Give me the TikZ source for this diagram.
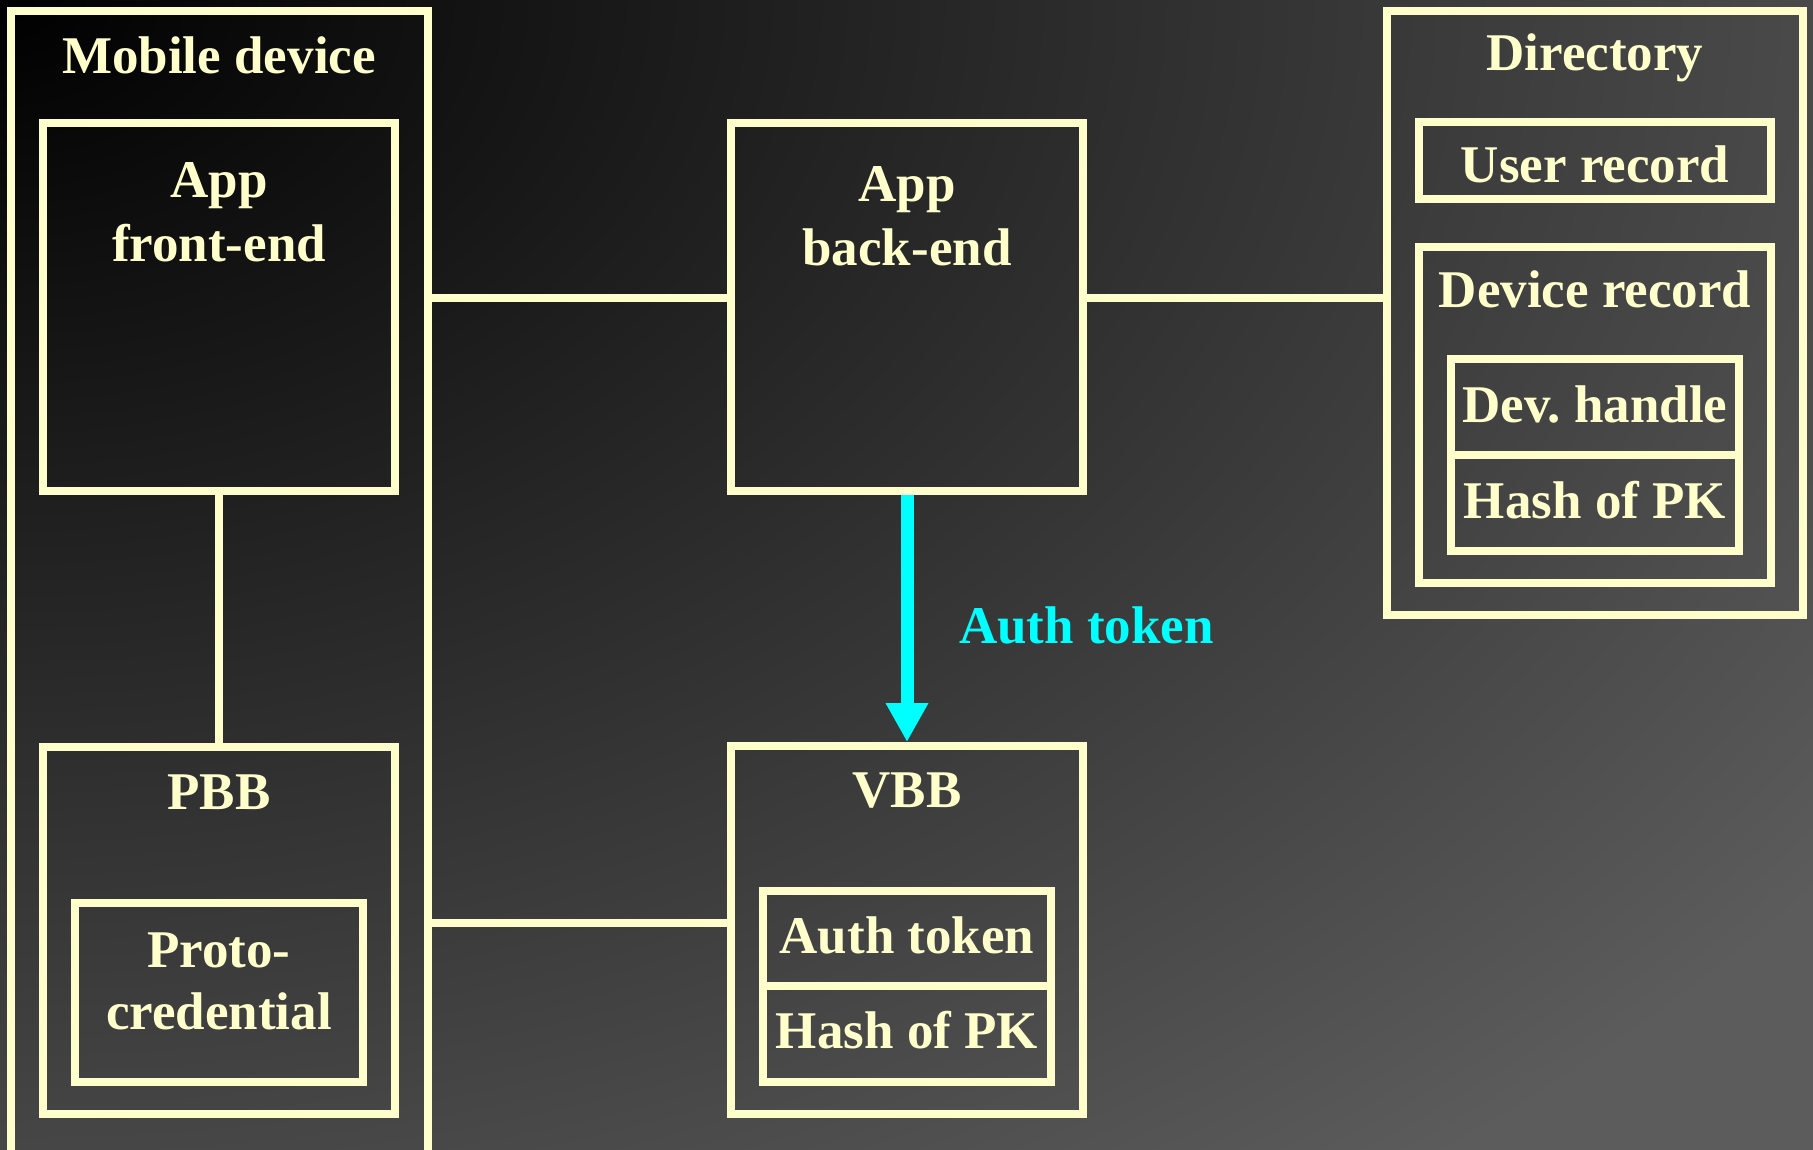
\documentclass[tikz,border=0pt]{standalone}
\usepackage{fontspec}
\setmainfont{Liberation Serif}
\usetikzlibrary{arrows.meta,fit}
\definecolor{cream}{HTML}{FFFFCC}
\definecolor{aqua}{RGB}{0,255,255}
\definecolor{bgfar}{HTML}{5C5C5C}
% backdrop: black in the corner, fading out to grey
\pgfdeclareradialshading{backdrop}{\pgfpointorigin}{color(0bp)=(black); color(100bp)=(bgfar); color(150bp)=(bgfar)}
\frenchspacing
\begin{document}
\begin{tikzpicture}[x=1pt,y=-1pt,
  frame/.style={draw=cream, line width=8pt, inner sep=0pt},
  lbl/.style={text=cream, font=\bfseries\fontsize{53}{64}\selectfont, anchor=base, inner sep=0pt},
  link/.style={draw=cream, line width=8pt},
  flow/.style={draw=aqua, line width=13pt, -{Triangle[width=40pt,length=39pt]}},
]
\useasboundingbox (0,0) rectangle (1813,1149);
\clip (0,0) rectangle (1813,1149);
\node[inner sep=0pt, outer sep=0pt, xscale=22.5, yscale=15, transform shape] (backdrop) at (0,0) {\pgfuseshading{backdrop}};

% mobile device and its parts
\node[frame, fit={(10.5,10.5) (427.5,1170)}] (mobile) {};
\node[lbl] (mobiletitle) at (219,73) {Mobile device};
\node[frame, fit={(43,122.5) (395,490.5)}] (front) {};
\node[lbl] (front1) at (219,197) {App};
\node[lbl] (front2) at (219,261) {front-end};
\node[frame, fit={(43,747) (395,1114)}] (pbb) {};
\node[lbl] (pbbtitle) at (219,809) {PBB};
\node[frame, fit={(75,903) (363,1082)}] (proto) {};
\node[lbl] (proto1) at (219,967) {Proto-};
\node[lbl] (proto2) at (219,1029) {credential};

% server side
\node[frame, fit={(731,123) (1083,490.5)}] (back) {};
\node[lbl] (back1) at (907,201) {App};
\node[lbl] (back2) at (907,265) {back-end};
\node[frame, fit={(731,746) (1083,1114)}] (vbb) {};
\node[lbl] (vbbtitle) at (907,807) {VBB};
\node[frame, fit={(763,891) (1051,986)}] (vtoken) {};
\node[lbl] (vtokentext) at (907,953) {Auth token};
\node[frame, fit={(763,986) (1051,1082)}] (vhash) {};
\node[lbl] (vhashtext) at (907,1048) {Hash of PK};

% directory
\node[frame, fit={(1387,10.5) (1803,614.5)}] (dir) {};
\node[lbl] (dirtitle) at (1595,70) {Directory};
\node[frame, fit={(1419,122) (1771,199)}] (user) {};
\node[lbl] (usertext) at (1595,182) {User record};
\node[frame, fit={(1419,247) (1771,583)}] (devrec) {};
\node[lbl] (devrectitle) at (1595,307) {Device record};
\node[frame, fit={(1451,359) (1739,455)}] (devh) {};
\node[lbl] (devhtext) at (1595,422) {Dev. handle};
\node[frame, fit={(1451,455) (1739,551)}] (devpk) {};
\node[lbl] (devpktext) at (1595,518) {Hash of PK};

% connections
\coordinate (toprow) at (0,298);
\coordinate (botrow) at (0,923);
\draw[link] (mobile.east |- toprow) -- (back.west |- toprow);
\draw[link] (back.east |- toprow) -- (dir.west |- toprow);
\draw[link] (mobile.east |- botrow) -- (vbb.west |- botrow);
\draw[link] (front.south) -- (pbb.north);
\draw[flow] (back.south) -- (vbb.north);
\node[lbl, text=aqua, anchor=base west] (flowlabel) at (959,643) {Auth token};
\end{tikzpicture}
\end{document}
